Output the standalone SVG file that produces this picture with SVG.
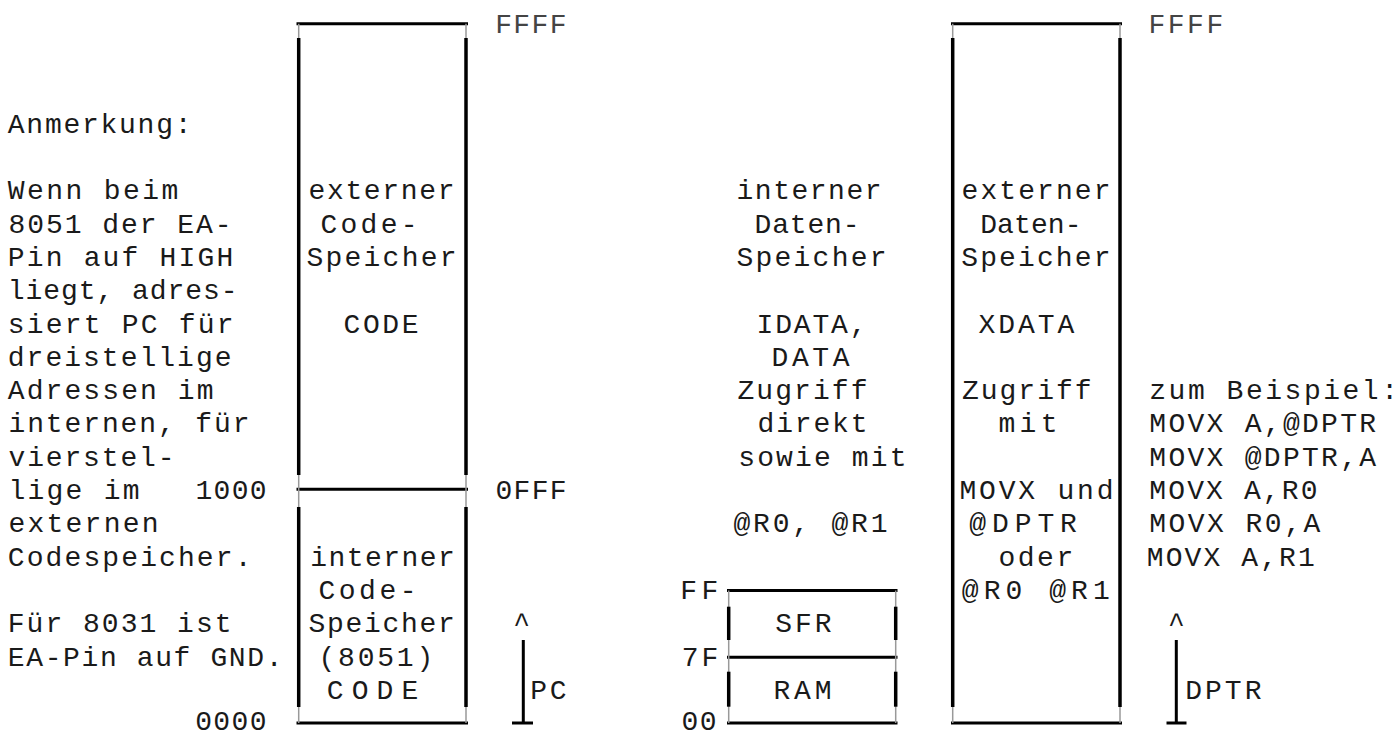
<svg xmlns="http://www.w3.org/2000/svg" width="1399" height="735" viewBox="0 0 1399 735">
<style>
  text { font-family: "Liberation Mono", "DejaVu Sans Mono", monospace; font-size: 28px; fill: #1a1a1a; }
  .light { fill: #444; }
  .c { text-anchor: middle; }
  .edge { stroke: #000; stroke-width: 3; fill: none; }
  .vedge { stroke: #000; stroke-width: 3.5; fill: none; }
  .thin { stroke: #999; stroke-width: 1.5; fill: none; }
  .stem { stroke: #000; stroke-width: 3; fill: none; }
</style>
<rect width="1399" height="735" fill="#fff"/>

<g id="notes">
  <text x="7.8" y="132.7" textLength="183.7" lengthAdjust="spacing">Anmerkung:</text>
  <text x="7.8" y="199.3" textLength="170.4" lengthAdjust="spacing">Wenn beim</text>
  <text x="8.5" y="232.6" textLength="223" lengthAdjust="spacing">8051 der EA-</text>
  <text x="7.8" y="265.9" textLength="225.4" lengthAdjust="spacing">Pin auf HIGH</text>
  <text x="7.8" y="299.2" textLength="229.7" lengthAdjust="spacing">liegt, adres-</text>
  <text x="7.8" y="332.5" textLength="225.7" lengthAdjust="spacing">siert PC für</text>
  <text x="7.8" y="365.8" textLength="223.7" lengthAdjust="spacing">dreistellige</text>
  <text x="7.8" y="399.1" textLength="205.7" lengthAdjust="spacing">Adressen im</text>
  <text x="8.5" y="432.4" textLength="241" lengthAdjust="spacing">internen, für</text>
  <text x="8.5" y="465.7" textLength="166" lengthAdjust="spacing">vierstel-</text>
  <text x="8.5" y="499" textLength="131" lengthAdjust="spacing">lige im</text>
  <text x="8.5" y="532.3" textLength="150" lengthAdjust="spacing">externen</text>
  <text x="7.8" y="565.6" textLength="243.7" lengthAdjust="spacing">Codespeicher.</text>
  <text x="7.8" y="632.2" textLength="223.7" lengthAdjust="spacing">Für 8031 ist</text>
  <text x="7.8" y="665.5" textLength="274.7" lengthAdjust="spacing">EA-Pin auf GND.</text>
</g>

<g id="code-memory">
  <line class="edge" x1="296.5" y1="23.7" x2="468" y2="23.7"/>
  <line class="edge" x1="296.5" y1="489.3" x2="468" y2="489.3"/>
  <line class="edge" x1="296.5" y1="723" x2="468" y2="723"/>
  <line class="thin" x1="298.7" y1="23.7" x2="298.7" y2="723"/>
  <line class="thin" x1="466" y1="23.7" x2="466" y2="723"/>
  <line class="vedge" x1="298.7" y1="38" x2="298.7" y2="475"/>
  <line class="vedge" x1="298.7" y1="507" x2="298.7" y2="707"/>
  <line class="vedge" x1="466" y1="38" x2="466" y2="475"/>
  <line class="vedge" x1="466" y1="507" x2="466" y2="707"/>
  <text x="308.5" y="199.3" textLength="146" lengthAdjust="spacing">externer</text>
  <text x="320.5" y="232.6" textLength="97" lengthAdjust="spacing">Code-</text>
  <text x="306.5" y="265.9" textLength="150" lengthAdjust="spacing">Speicher</text>
  <text x="343.5" y="332.5" textLength="75" lengthAdjust="spacing">CODE</text>
  <text x="310.2" y="565.6" textLength="144.6" lengthAdjust="spacing">interner</text>
  <text x="318.5" y="598.9" textLength="98" lengthAdjust="spacing">Code-</text>
  <text x="308.5" y="632.2" textLength="146.3" lengthAdjust="spacing">Speicher</text>
  <text x="318.5" y="665.5" textLength="114.7" lengthAdjust="spacing">(8051)</text>
  <text x="326.8" y="698.8" textLength="91.4" lengthAdjust="spacing">CODE</text>
  <text class="light" x="495.2" y="32.8" textLength="71.3" lengthAdjust="spacing">FFFF</text>
  <text x="495.5" y="499" textLength="71" lengthAdjust="spacing">0FFF</text>
  <text x="195.5" y="499" textLength="71" lengthAdjust="spacing">1000</text>
  <text x="195.2" y="729.5" textLength="71.3" lengthAdjust="spacing">0000</text>
</g>

<g id="pc-pointer">
  <text class="c" x="521.7" y="632.2">^</text>
  <text x="530.2" y="698.8" textLength="36.3" lengthAdjust="spacing">PC</text>
</g>

<g id="internal-data-labels">
  <text x="736.5" y="199.3" textLength="145" lengthAdjust="spacing">interner</text>
  <text x="754.5" y="232.6" textLength="105" lengthAdjust="spacing">Daten-</text>
  <text x="736.5" y="265.9" textLength="150" lengthAdjust="spacing">Speicher</text>
  <text x="756.5" y="332.5" textLength="110" lengthAdjust="spacing">IDATA,</text>
  <text x="771.5" y="365.8" textLength="78" lengthAdjust="spacing">DATA</text>
  <text x="737.5" y="399.1" textLength="130" lengthAdjust="spacing">Zugriff</text>
  <text x="757.5" y="432.4" textLength="110" lengthAdjust="spacing">direkt</text>
  <text x="738.2" y="465.7" textLength="168.3" lengthAdjust="spacing">sowie mit</text>
  <text x="733.5" y="532.3" textLength="154" lengthAdjust="spacing">@R0, @R1</text>
</g>

<g id="sfr-ram">
  <line class="edge" x1="727" y1="590.5" x2="897.5" y2="590.5"/>
  <line class="edge" x1="727" y1="657.3" x2="897.5" y2="657.3"/>
  <line class="edge" x1="727" y1="723" x2="897.5" y2="723"/>
  <line class="thin" x1="728.7" y1="590.5" x2="728.7" y2="723"/>
  <line class="thin" x1="895.7" y1="590.5" x2="895.7" y2="723"/>
  <line class="vedge" x1="728.7" y1="606.7" x2="728.7" y2="640"/>
  <line class="vedge" x1="728.7" y1="671.7" x2="728.7" y2="706.7"/>
  <line class="vedge" x1="895.7" y1="606.7" x2="895.7" y2="640"/>
  <line class="vedge" x1="895.7" y1="671.7" x2="895.7" y2="706.7"/>
  <text x="775.2" y="632.2" textLength="56.3" lengthAdjust="spacing">SFR</text>
  <text x="773.5" y="698.8" textLength="58" lengthAdjust="spacing">RAM</text>
  <text x="680.2" y="598.9" textLength="38" lengthAdjust="spacing">FF</text>
  <text x="681.8" y="665.5" textLength="36.4" lengthAdjust="spacing">7F</text>
  <text x="681.5" y="729.5" textLength="35" lengthAdjust="spacing">00</text>
</g>

<g id="xdata-memory">
  <line class="edge" x1="951" y1="23.7" x2="1122" y2="23.7"/>
  <line class="edge" x1="951" y1="723" x2="1122" y2="723"/>
  <line class="thin" x1="952.7" y1="23.7" x2="952.7" y2="723"/>
  <line class="thin" x1="1120" y1="23.7" x2="1120" y2="723"/>
  <line class="vedge" x1="952.7" y1="38" x2="952.7" y2="707"/>
  <line class="vedge" x1="1120" y1="38" x2="1120" y2="707"/>
  <text x="961.5" y="199.3" textLength="149" lengthAdjust="spacing">externer</text>
  <text x="980.2" y="232.6" textLength="101.3" lengthAdjust="spacing">Daten-</text>
  <text x="961.2" y="265.9" textLength="149.3" lengthAdjust="spacing">Speicher</text>
  <text x="978.5" y="332.5" textLength="95.7" lengthAdjust="spacing">XDATA</text>
  <text x="962" y="399.1" textLength="129.5" lengthAdjust="spacing">Zugriff</text>
  <text x="998.5" y="432.4" textLength="59" lengthAdjust="spacing">mit</text>
  <text x="959.5" y="499" textLength="154" lengthAdjust="spacing">MOVX und</text>
  <text x="969.3" y="532.3" textLength="107.6" lengthAdjust="spacing">@DPTR</text>
  <text x="998.5" y="565.6" textLength="74.7" lengthAdjust="spacing">oder</text>
  <text x="961.8" y="598.9" textLength="148" lengthAdjust="spacing">@R0  @R1</text>
  <text class="light" x="1148.5" y="32.8" textLength="74.7" lengthAdjust="spacing">FFFF</text>
</g>

<g id="examples">
  <text x="1149.3" y="399.1" textLength="248.7" lengthAdjust="spacing">zum Beispiel:</text>
  <text x="1149.3" y="432.4" textLength="226.8" lengthAdjust="spacing">MOVX A,@DPTR</text>
  <text x="1149.3" y="465.7" textLength="226.8" lengthAdjust="spacing">MOVX @DPTR,A</text>
  <text x="1149.3" y="499" textLength="168.2" lengthAdjust="spacing">MOVX A,R0</text>
  <text x="1149.3" y="532.3" textLength="170.9" lengthAdjust="spacing">MOVX R0,A</text>
  <text x="1146.8" y="565.6" textLength="168" lengthAdjust="spacing">MOVX A,R1</text>
</g>

<g id="dptr-pointer">
  <text class="c" x="1176.5" y="632.2">^</text>
  <text x="1185.2" y="698.8" textLength="76.3" lengthAdjust="spacing">DPTR</text>
</g>

<g id="connectors">
  <line class="stem" x1="523.3" y1="640" x2="523.3" y2="723"/>
  <line class="stem" x1="512" y1="723" x2="533" y2="723"/>
  <line class="stem" x1="1176.3" y1="640" x2="1176.3" y2="723"/>
  <line class="stem" x1="1166.5" y1="723" x2="1186.5" y2="723"/>
</g>
</svg>
